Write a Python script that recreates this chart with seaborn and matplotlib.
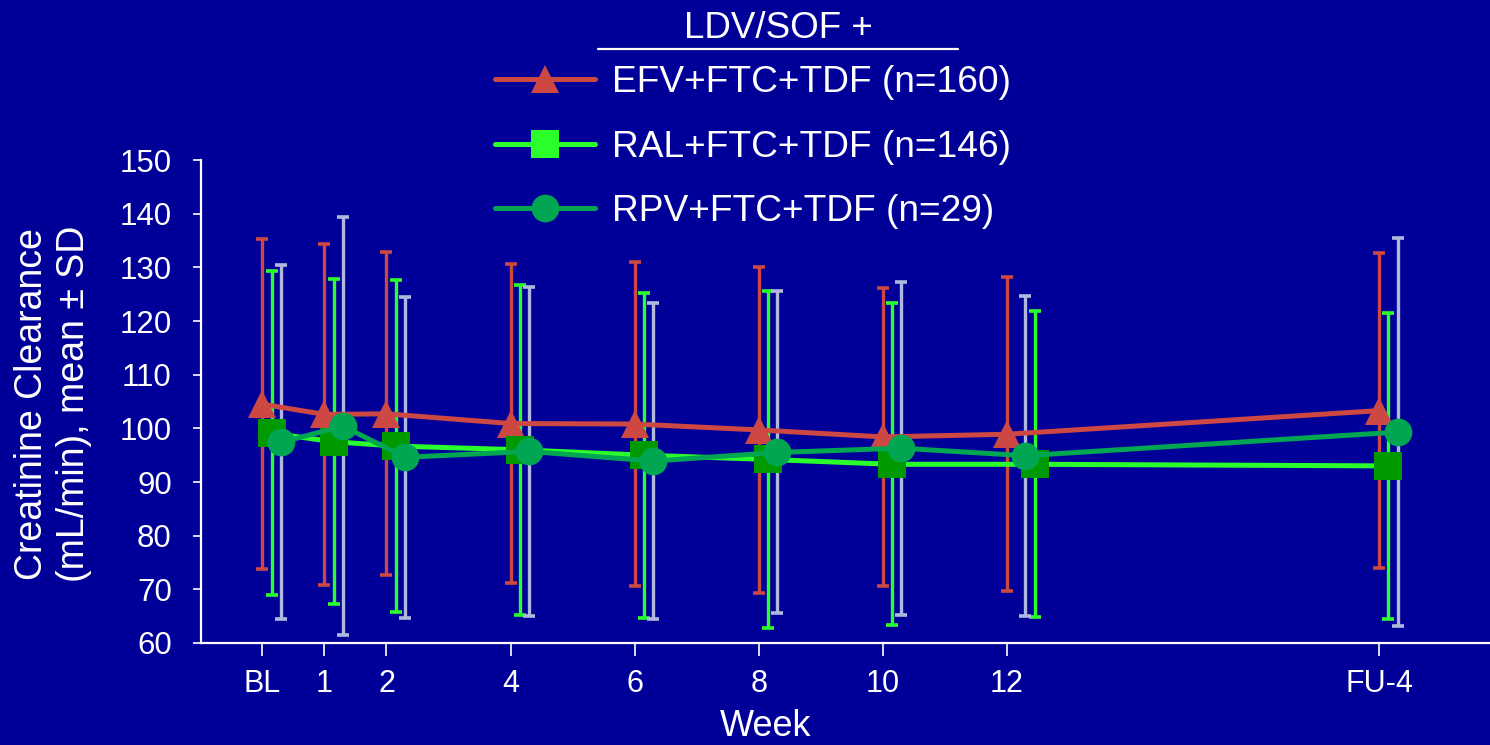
import matplotlib
matplotlib.use("Agg")
import matplotlib.pyplot as plt
from matplotlib.lines import Line2D
import pandas as pd
import seaborn as sns

# ────────── data ──────────────────────────────────────────────────────────────
weeks = [0, 1, 2, 4, 6, 8, 10, 12, 18]
week_labels = ["BL", "1", "2", "4", "6", "8", "10", "12", "FU-4"]

efv_mean = [104.5, 102.6, 102.7, 100.9, 100.8, 99.7, 98.4, 98.9, 103.3]
efv_sd = [30.7, 31.8, 30.1, 29.8, 30.2, 30.4, 27.8, 29.3, 29.3]

ral_mean = [99.1, 97.5, 96.7, 96.0, 95.0, 94.2, 93.3, 93.3, 93.0]
ral_sd = [30.2, 30.3, 31.0, 30.7, 30.3, 31.4, 30.0, 28.5, 28.5]

rpv_mean = [97.4, 100.4, 94.6, 95.7, 93.9, 95.5, 96.3, 94.9, 99.3]
rpv_sd = [33.0, 39.0, 29.9, 30.7, 29.5, 30.0, 31.0, 29.8, 36.2]

# small horizontal dodge (weeks) so the SD bars don't overlap
efv_dodge = [0, 0, 0, 0, 0, 0, 0, 0, 0]
ral_dodge = [0.15, 0.15, 0.15, 0.15, 0.15, 0.15, 0.15, 0.45, 0.15]
rpv_dodge = [0.30, 0.30, 0.30, 0.30, 0.30, 0.30, 0.30, 0.30, 0.30]

series_labels = [
    "EFV+FTC+TDF (n=160)",
    "RAL+FTC+TDF (n=146)",
    "RPV+FTC+TDF (n=29)",
]

BG = "#000099"
RED = "#CD4842"
LIME = "#2BFF2B"
DARK_GREEN = "#009900"
RPV_GREEN = "#00A651"
BAR_GREY = "#B0B8E0"

# (label, mean, sd, dodge, line colour, marker, marker colour, bar colour, legend marker colour)
SERIES = [
    (series_labels[0], efv_mean, efv_sd, efv_dodge, RED, "^", RED, RED, RED),
    (series_labels[1], ral_mean, ral_sd, ral_dodge, LIME, "s", DARK_GREEN, LIME, LIME),
    (series_labels[2], rpv_mean, rpv_sd, rpv_dodge, RPV_GREEN, "o", RPV_GREEN, BAR_GREY, RPV_GREEN),
]


def main() -> None:
    sns.set_theme(style="ticks")
    plt.rcParams["font.family"] = ["Liberation Sans", "DejaVu Sans"]
    plt.rcParams.update({
        "figure.facecolor": BG,
        "axes.facecolor": BG,
        "axes.edgecolor": "white",
        "text.color": "white",
        "xtick.color": "white",
        "ytick.color": "white",
        "axes.labelcolor": "white",
    })

    fig = plt.figure(figsize=(14.9, 7.45), dpi=100)
    ax = fig.add_axes([201 / 1490, 1 - 643 / 745, 1 - 201 / 1490, (643 - 160) / 745])

    for label, mean, sd, dodge, lc, mk, mc, bc, _ in SERIES:
        df = pd.DataFrame({
            "x": [w + d for w, d in zip(weeks, dodge)],
            "mean": mean,
            "sd": sd,
        })
        ax.errorbar(df["x"], df["mean"], yerr=df["sd"], fmt="none",
                    ecolor=bc, elinewidth=2.4, capsize=4.3, capthick=2.6,
                    zorder=1)
        sns.lineplot(data=df, x="x", y="mean", ax=ax, sort=False,
                     errorbar=None, color=lc, lw=3.6, marker=mk,
                     markersize=20, markerfacecolor=mc, markeredgecolor=mc,
                     markeredgewidth=0, zorder=3, legend=False)

    ax.set_xlim(-0.99, 19.79)
    ax.set_ylim(60, 150)
    ax.set_xticks(weeks)
    ax.set_xticklabels(week_labels)
    ax.set_yticks(range(60, 151, 10))
    sns.despine(ax=ax)
    for side in ("left", "bottom"):
        ax.spines[side].set_linewidth(1.6)
        ax.spines[side].set_color("white")

    ax.tick_params(axis="x", length=9.4, width=1.2, pad=9, labelsize=22)
    ax.tick_params(axis="y", length=6, width=1.2, pad=15, labelsize=22.5)

    ax.set_xlabel("Week", fontsize=26)
    ax.xaxis.set_label_coords(0.438, -0.137)
    ax.set_ylabel("")
    fig.text(53 / 1490, 1 - 404 / 745,
             "Creatinine Clearance\n(mL/min), mean ± SD",
             rotation=90, ha="center", va="center", fontsize=27,
             linespacing=1.2, multialignment="center")

    # legend with a separate underlined heading
    fig.text(778 / 1490, 1 - 28 / 745, "LDV/SOF +", ha="center", va="center",
             fontsize=26.5)
    fig.add_artist(Line2D([598 / 1490, 958 / 1490], [1 - 49 / 745] * 2,
                          transform=fig.transFigure, color="white", lw=1.6))
    handles = [
        Line2D([], [], color=lc, lw=3.6, marker=mk, markersize=20,
               markerfacecolor=lgc, markeredgewidth=0)
        for _, _, _, _, lc, mk, _, _, lgc in SERIES
    ]
    fig.legend(handles, series_labels, loc="upper left",
               bbox_to_anchor=(495 / 1490, 1 - 65 / 745), frameon=False,
               borderpad=0, borderaxespad=0, handlelength=2.7,
               handletextpad=0.45, labelspacing=0.8, fontsize=26.7)

    fig.savefig("out.png", dpi=100, facecolor=BG)
    plt.close(fig)


if __name__ == "__main__":
    main()
